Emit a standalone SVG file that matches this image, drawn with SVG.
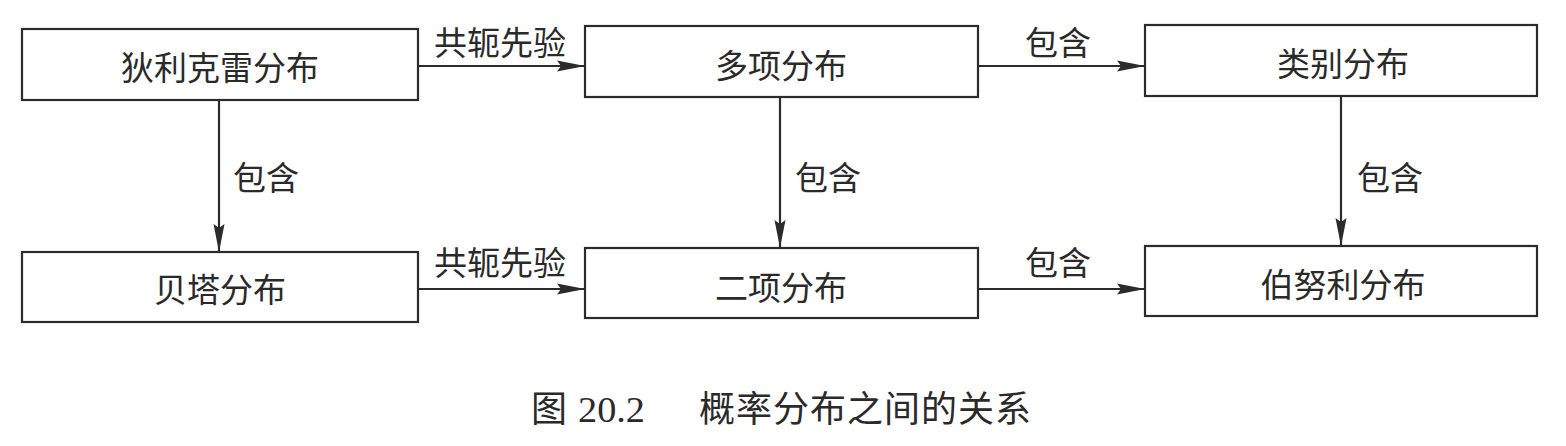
<svg xmlns="http://www.w3.org/2000/svg" width="1566" height="446" viewBox="0 0 1566 446">
<style>
.box{fill:#fff;stroke:#2b2b2b;stroke-width:2.2}
.nt{font-family:"Noto Sans CJK SC","Liberation Sans",sans-serif;font-size:33px;fill:#2a2a2a;text-anchor:middle;dominant-baseline:central}
.lb{font-family:"Noto Sans CJK SC","Liberation Sans",sans-serif;font-size:33px;fill:#2a2a2a;text-anchor:middle;dominant-baseline:central}
.cap{font-family:"Liberation Serif","Noto Sans CJK SC",serif;font-size:36px;fill:#2a2a2a;dominant-baseline:central}
.ln{stroke:#2b2b2b;stroke-width:2.2;fill:none;marker-end:url(#ah)}
</style>
<defs>
<marker id="ah" markerUnits="userSpaceOnUse" markerWidth="30" markerHeight="14" refX="28" refY="7" orient="auto">
<path d="M0,1.5 L28,7 L0,12.5 L4,7 Z" fill="#2b2b2b"/>
</marker>
</defs>
<rect width="1566" height="446" fill="#fff"/>
<g id="connectors">
<line class="ln" x1="419" y1="66" x2="585" y2="66"/>
<line class="ln" x1="979" y1="66" x2="1145" y2="66"/>
<line class="ln" x1="419" y1="289" x2="585" y2="289"/>
<line class="ln" x1="979" y1="289" x2="1145" y2="289"/>
<line class="ln" x1="219" y1="101" x2="219" y2="252"/>
<line class="ln" x1="780" y1="97" x2="780" y2="248"/>
<line class="ln" x1="1341" y1="97" x2="1341" y2="246"/>
<text class="lb" x="500" y="41">共轭先验</text>
<text class="lb" x="1058" y="41">包含</text>
<text class="lb" x="500" y="261">共轭先验</text>
<text class="lb" x="1058" y="261">包含</text>
<text class="lb" x="266" y="176">包含</text>
<text class="lb" x="828" y="176">包含</text>
<text class="lb" x="1390" y="176">包含</text>
</g>
<g id="n1"><rect class="box" x="22" y="29" width="396" height="71"/><text class="nt" x="220" y="66">狄利克雷分布</text></g>
<g id="n2"><rect class="box" x="585" y="26" width="393" height="71"/><text class="nt" x="781" y="64">多项分布</text></g>
<g id="n3"><rect class="box" x="1145" y="25" width="392" height="71"/><text class="nt" x="1343" y="62">类别分布</text></g>
<g id="n4"><rect class="box" x="22" y="252" width="396" height="70"/><text class="nt" x="220" y="288">贝塔分布</text></g>
<g id="n5"><rect class="box" x="585" y="248" width="393" height="70"/><text class="nt" x="781" y="286">二项分布</text></g>
<g id="n6"><rect class="box" x="1145" y="246" width="392" height="70"/><text class="nt" x="1343" y="283">伯努利分布</text></g>
<text class="cap" y="410"><tspan x="531">图</tspan><tspan x="578" textLength="67" lengthAdjust="spacingAndGlyphs">20.2</tspan><tspan x="699" letter-spacing="1">概率分布之间的关系</tspan></text>
</svg>
